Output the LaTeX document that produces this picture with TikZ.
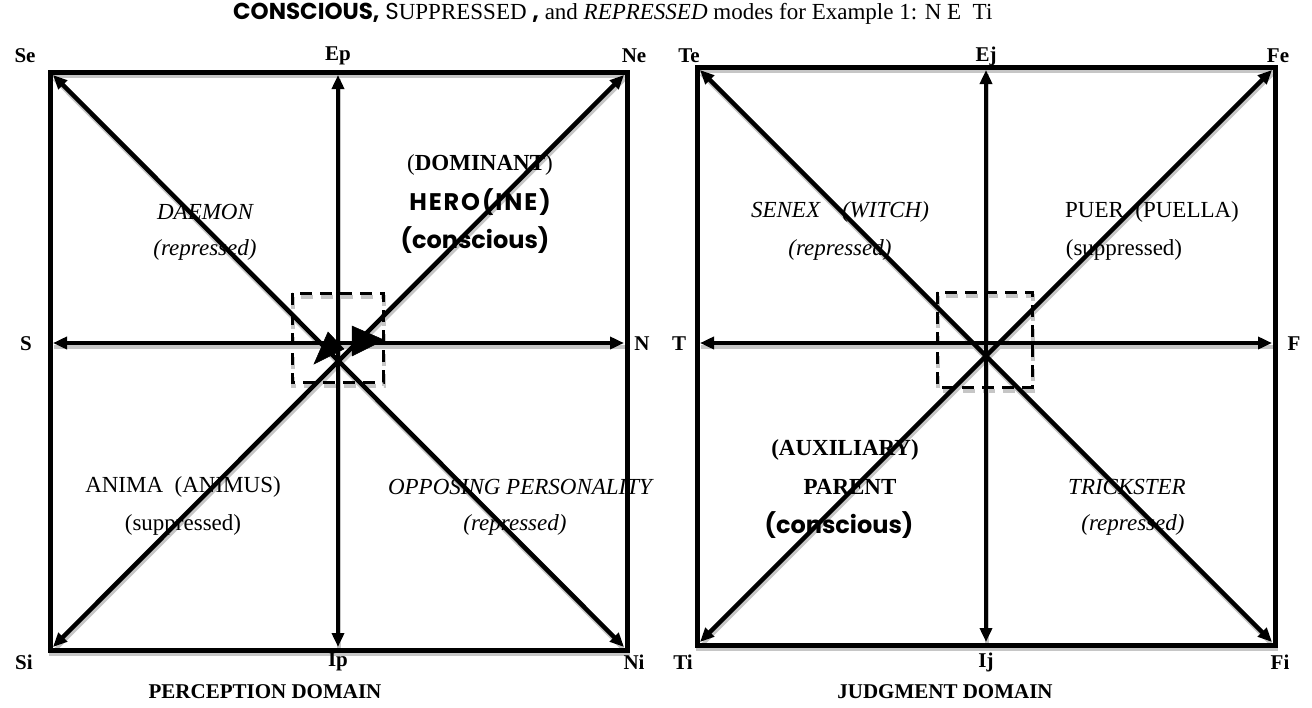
\documentclass[tikz,border=0pt]{standalone}
\usepackage{fontspec}
\setmainfont{Liberation Serif}
\newfontfamily\comicf{Poppins}
\usetikzlibrary{arrows.meta}
\tikzset{
  frm/.style={line width=5pt, line cap=rect},
  arr/.style={line width=4.5pt, {Triangle[length=14pt 0,width=12pt 0]}-{Triangle[length=14pt 0,width=12pt 0]}},
  dsh/.style={line width=3pt, dash pattern=on 12pt off 8pt},
  shd/.style={gray!45, line width=3.5pt, -},
  lbl/.style={font=\fontsize{21}{24}\selectfont\bfseries, inner sep=0pt},
  txt/.style={font=\fontsize{23}{27}\selectfont, inner sep=0pt, align=center},
  itxt/.style={font=\fontsize{23}{27}\selectfont\itshape, inner sep=0pt, align=center},
  btxt/.style={font=\fontsize{23}{27}\selectfont\bfseries, inner sep=0pt, align=center},
  ctxt/.style={font=\fontsize{24}{28}\selectfont\comicf\bfseries, inner sep=0pt},
  bighead/.style={fill=black, draw=black, line width=0.5pt}
}
\newcommand\drawallcons[1]{%
  \draw[frm,#1] (LSe) rectangle (LNi);
  \draw[frm,#1] (RTe) rectangle (RFi);
  \draw[arr,#1] (LSe') -- (LNi');
  \draw[arr,#1] (LSi') -- (LNe');
  \draw[arr,#1] (LEp) -- (LIp);
  \draw[arr,#1] (LS) -- (LN);
  \draw[arr,#1] (RTe') -- (RFi');
  \draw[arr,#1] (RTi') -- (RFe');
  \draw[arr,#1] (REj) -- (RIj);
  \draw[arr,#1] (RT) -- (RF);
  \draw[dsh,#1] (LDa) rectangle (LDb);
  \draw[dsh,#1] (RDa) rectangle (RDb);
}
\begin{document}
\begin{tikzpicture}[x=1pt,y=-1pt]
\useasboundingbox[fill=white] (0,0) rectangle (1312,707);
% left box corners
\coordinate (LSe) at (50,72);
\coordinate (LNi) at (627,650);
\coordinate (LSe') at (53,75);
\coordinate (LNe') at (624,75);
\coordinate (LSi') at (53,647);
\coordinate (LNi') at (624,647);
\coordinate (LEp) at (338,75);
\coordinate (LIp) at (338,647);
\coordinate (LS) at (53,343);
\coordinate (LN) at (624,343);
\coordinate (LDa) at (292,293);
\coordinate (LDb) at (383,382);
% right box corners
\coordinate (RTe) at (697,67);
\coordinate (RFi) at (1275,645);
\coordinate (RTe') at (700,70);
\coordinate (RFe') at (1272,70);
\coordinate (RTi') at (700,642);
\coordinate (RFi') at (1272,642);
\coordinate (REj) at (986,70);
\coordinate (RIj) at (986,642);
\coordinate (RT) at (700,343);
\coordinate (RF) at (1272,343);
\coordinate (RDa) at (937,292);
\coordinate (RDb) at (1032,387);

% shadows
\begin{scope}[transform canvas={shift={(1pt,-4pt)}}]
\drawallcons{shd}
\end{scope}
% black lines
\drawallcons{}

% central big arrowheads (left)
\filldraw[bighead] (328,332) -- (344,349) -- (314,364) -- cycle;
\filldraw[bighead] (352,326) -- (384,340) -- (352,356) -- cycle;

% title
\node[anchor=west, inner sep=0pt, font=\fontsize{23}{27}\selectfont] (title) at (233,14)
  {{\comicf\bfseries CONSCIOUS,} {\comicf S}UPPRESSED {\comicf\bfseries ,} and \textit{REPRESSED} modes for Example 1: N E\ \ Ti};

% corner labels left
\node[lbl] (tSe) at (25,56) {Se};
\node[lbl] (tEp) at (338,56) {Ep};
\node[lbl] (tNe) at (634,56) {Ne};
\node[lbl] (tS) at (26,344) {S};
\node[lbl] (tN) at (642,344) {N};
\node[lbl] (tSi) at (24,662) {Si};
\node[lbl] (tIp) at (338,662) {Ip};
\node[lbl] (tNi) at (634,662) {Ni};
% corner labels right
\node[lbl] (tTe) at (689,56) {Te};
\node[lbl] (tEj) at (986,56) {Ej};
\node[lbl] (tFe) at (1278,56) {Fe};
\node[lbl] (tT) at (679,344) {T};
\node[lbl] (tF) at (1294,344) {F};
\node[lbl] (tTi) at (683,662) {Ti};
\node[lbl] (tIj) at (986,662) {Ij};
\node[lbl] (tFi) at (1280,662) {Fi};

% domain captions
\node[lbl] (pd) at (265,692) {PERCEPTION DOMAIN};
\node[lbl] (jd) at (945,692) {JUDGMENT DOMAIN};

% left box texts
\node[itxt] (daemon) at (205,212) {DAEMON};
\node[itxt] (rep1) at (205,250) {(repressed)};
\node[txt] (dom) at (480,165) {(\textbf{DOMINANT})};
\node[ctxt, font=\fontsize{24}{28}\selectfont\comicf\bfseries\addfontfeatures{LetterSpace=8}] (hero) at (480,202) {HERO(INE)};
\node[ctxt] (con1) at (475,240) {(conscious)};
\node[txt] (anima) at (183,487) {ANIMA\ \ (ANIMUS)};
\node[txt] (sup1) at (183,525) {(suppressed)};
\node[itxt] (opp) at (520,487) {OPPOSING PERSONALITY};
\node[itxt] (rep2) at (515,525) {(repressed)};

% right box texts
\node[itxt] (senex) at (840,212) {SENEX\hspace{22pt}(WITCH)};
\node[itxt] (rep3) at (840,250) {(repressed)};
\node[txt] (puer) at (1152,212) {PUER\ \ (PUELLA)};
\node[txt] (sup2) at (1124,250) {(suppressed)};
\node[btxt] (aux) at (845,450) {(AUXILIARY)};
\node[btxt] (parent) at (850,487) {PARENT};
\node[ctxt] (con2) at (839,525) {(conscious)};
\node[itxt] (trick) at (1127,487) {TRICKSTER};
\node[itxt] (rep4) at (1133,525) {(repressed)};
\end{tikzpicture}
\end{document}
